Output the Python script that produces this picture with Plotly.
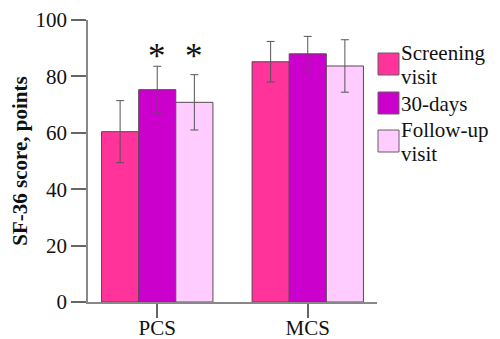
import plotly.graph_objects as go

categories = ["PCS", "MCS"]
series_names = ["Screening visit", "30-days", "Follow-up visit"]
legend_lines = [["Screening", "visit"], ["30-days"], ["Follow-up", "visit"]]
screening = [60.4, 85.2]
screening_err = [11.0, 7.2]
days30 = [75.3, 88.0]
days30_err = [8.3, 6.2]
followup = [70.8, 83.7]
followup_err = [9.8, 9.3]
significance = [["", "*", "*"], ["", "", ""]]
y_ticks = [0, 20, 40, 60, 80, 100]

colors = ["#FF3399", "#CC00CC", "#FFCCFF"]
values = [screening, days30, followup]
errors = [screening_err, days30_err, followup_err]

FONT = "Liberation Serif"
# page body has an 8px margin, so the figure is drawn 8px in from the window edge
OFF = 8
W, H = 500 - OFF, 339 - OFF
L, T = 88 - OFF, 20 - OFF
PW, PH = 289, 282
R, B = W - L - PW, H - T - PH

def px_x(p):
    return (p - OFF - L) / PW

def px_y(p):
    return 1 - (p - OFF - T) / PH

fig = go.Figure()
for name, vals, errs, col in zip(series_names, values, errors, colors):
    fig.add_trace(go.Bar(
        x=categories, y=vals, name=name,
        marker=dict(color=col, line=dict(color="#5a4a55", width=1)),
        error_y=dict(type="data", array=errs, visible=True,
                     color="#555555", thickness=1, width=4),
    ))

bargap = 0.26
bw = (1 - bargap) / len(series_names)
for ci, cat in enumerate(categories):
    group_top = max(values[si][ci] + errors[si][ci] for si in range(len(series_names)))
    for si, mark in enumerate(significance[ci]):
        if mark:
            fig.add_annotation(
                x=ci + (si - 1) * bw, y=group_top, yanchor="bottom", yshift=-12,
                text=mark, showarrow=False,
                font=dict(family=FONT, size=35, color="#111111"),
            )

# legend drawn manually to match large square swatches
sq_tops = [53, 92, 130]
SQ = 22
LINE = 24
for lines, col, top in zip(legend_lines, colors, sq_tops):
    fig.add_shape(type="rect", xref="paper", yref="paper",
                  x0=px_x(378), x1=px_x(399), y0=px_y(top), y1=px_y(top + SQ),
                  fillcolor=col, line=dict(color="#6a5a65", width=1))
    center = top + SQ / 2 + 1
    n = len(lines)
    for li, line in enumerate(lines):
        fig.add_annotation(
            xref="paper", yref="paper", x=px_x(400),
            y=px_y(center + (li - (n - 1) / 2) * LINE),
            xanchor="left", yanchor="middle", text=line, showarrow=False, borderpad=0,
            font=dict(family=FONT, size=21, color="#111111"),
        )

fig.update_layout(
    width=W, height=H,
    margin=dict(l=L, r=R, t=T, b=B, autoexpand=False),
    paper_bgcolor="white", plot_bgcolor="white",
    barmode="group", bargap=bargap, bargroupgap=0,
    showlegend=False,
    font=dict(family=FONT, size=21, color="#111111"),
)
fig.update_xaxes(
    range=[-0.46, 1.46], showline=True, linecolor="#888888", linewidth=1.5,
    ticks="outside", ticklen=14, tickcolor="#666666", tickwidth=1.5,
    ticklabelstandoff=-8,
    showgrid=False, zeroline=False,
    tickfont=dict(family=FONT, size=21, color="#111111"),
)
fig.update_yaxes(
    range=[0, 100], tickvals=y_ticks, showline=True, linecolor="#888888", linewidth=1.5,
    ticks="outside", ticklen=15, tickcolor="#666666", tickwidth=1.5,
    showgrid=False, zeroline=False,
    tickfont=dict(family=FONT, size=21, color="#111111"),
    title=dict(text="<b>SF-36 score, points</b>", standoff=3,
               font=dict(family=FONT, size=21, color="#111111")),
)

fig.write_html("out.html")
